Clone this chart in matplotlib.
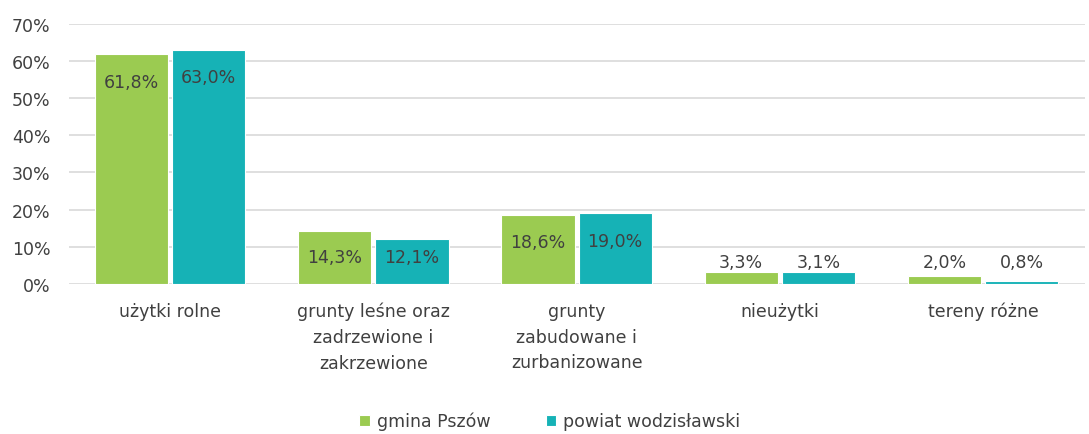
import matplotlib
matplotlib.use("Agg")
import matplotlib.pyplot as plt
import numpy as np
from matplotlib.ticker import FuncFormatter

categories = ["użytki rolne", "grunty leśne oraz\nzadrzewione i\nzakrzewione",
              "grunty\nzabudowane i\nzurbanizowane", "nieużytki", "tereny różne"]
gmina = [61.8, 14.3, 18.6, 3.3, 2.0]
powiat = [63.0, 12.1, 19.0, 3.1, 0.8]
series_names = ["gmina Pszów", "powiat wodzisławski"]
yticks = [0, 10, 20, 30, 40, 50, 60, 70]

green = "#9BCB51"
teal = "#16B2B6"
txt = "#404040"

plt.rcParams['font.family'] = ['DejaVu Sans']

fig = plt.figure(figsize=(10.89, 4.35), dpi=100)
ax = fig.add_axes([0.063, 0.345, 0.933, 0.598])

x = np.arange(len(categories))
w = 0.36
off = 0.19
b1 = ax.bar(x - off, gmina, w, color=green, edgecolor="white", linewidth=0.8, label=series_names[0], zorder=2)
b2 = ax.bar(x + off, powiat, w, color=teal, edgecolor="white", linewidth=0.8, label=series_names[1], zorder=2)

def label_y(v):
    if v >= 10:
        return max(v - 7.4, 7.3)
    return 5.9

for xs, vals in ((x - off, gmina), (x + off, powiat)):
    for xi, v in zip(xs, vals):
        ax.text(xi, label_y(v), f"{v:.1f}%".replace(".", ","), ha="center", va="center",
                fontsize=12.5, color=txt, zorder=3)

ax.set_xlim(-0.5, len(categories) - 0.5)
ax.set_ylim(0, 70)
ax.set_yticks(yticks)
ax.yaxis.set_major_formatter(FuncFormatter(lambda v, p: f"{v:.0f}%"))
ax.set_xticks(x)
ax.set_xticklabels(categories, fontsize=12.5, color=txt, linespacing=1.55, va="top")
ax.tick_params(axis="y", labelsize=12.5, labelcolor=txt, length=0, pad=13)
ax.tick_params(axis="x", length=0, pad=13)
ax.grid(axis="y", color="#D9D9D9", linewidth=1.2, zorder=0)
ax.set_axisbelow(True)
for s in ax.spines.values():
    s.set_visible(False)

leg = fig.legend(handles=[b1, b2], labels=series_names, loc="center", bbox_to_anchor=(0.505, 0.03),
                 ncol=2, frameon=False, fontsize=12.5, handlelength=0.6, handleheight=0.6,
                 handletextpad=0.4, columnspacing=3.2)
for t in leg.get_texts():
    t.set_color(txt)

fig.savefig("out.png", dpi=100)
